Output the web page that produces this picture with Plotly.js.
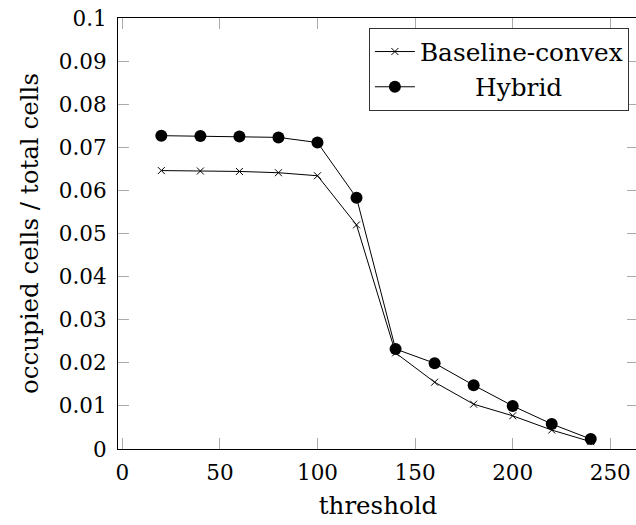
<!DOCTYPE html>
<html>
<head>
<meta charset="utf-8">
<script src="https://cdn.plot.ly/plotly-3.0.1.min.js"></script>
<style>html,body{margin:0;padding:0;background:#fff;overflow:hidden;}#chart{width:640px;height:525px;}</style>
</head>
<body>
<div id="chart"></div>
<script>
const thresholds = [20, 40, 60, 80, 100, 120, 140, 160, 180, 200, 220, 240];
const baselineConvex = [0.0646, 0.0645, 0.0644, 0.0641, 0.0634, 0.0520, 0.0223, 0.0155, 0.0104, 0.0077, 0.0044, 0.0017];
const hybrid = [0.0727, 0.0726, 0.0725, 0.0723, 0.0711, 0.0583, 0.0232, 0.0199, 0.0148, 0.0100, 0.0058, 0.0023];
const yTickVals = [0, 0.01, 0.02, 0.03, 0.04, 0.05, 0.06, 0.07, 0.08, 0.09, 0.1];
const yTickText = ["0", "0.01", "0.02", "0.03", "0.04", "0.05", "0.06", "0.07", "0.08", "0.09", "0.1"];
const xTickVals = [0, 50, 100, 150, 200, 250];
const xTickText = ["0", "50", "100", "150", "200", "250"];

const FONT = '"DejaVu Serif", "Liberation Serif", serif';

const traces = [
  {
    x: thresholds, y: baselineConvex, name: "Baseline-convex",
    type: "scatter", mode: "lines+markers",
    line: {color: "black", width: 1},
    marker: {symbol: "x-thin", size: 7, color: "black", line: {color: "black", width: 1}}
  },
  {
    x: thresholds, y: hybrid, name: "\u00a0\u00a0\u00a0\u00a0\u00a0\u00a0\u00a0Hybrid",
    type: "scatter", mode: "lines+markers",
    line: {color: "black", width: 1},
    marker: {symbol: "circle", size: 12, color: "black"}
  }
];

const layout = {
  width: 640, height: 525,
  margin: {l: 118, r: 2, t: 18, b: 76},
  paper_bgcolor: "white", plot_bgcolor: "white",
  font: {family: FONT, size: 21.5, color: "black"},
  showlegend: true,
  legend: {
    x: 0.9825, y: 0.977, xanchor: "right", yanchor: "top",
    bordercolor: "#333", borderwidth: 1, bgcolor: "white",
    font: {family: FONT, size: 24.8, color: "black"},
    itemwidth: 40, tracegroupgap: 0
  },
  xaxis: {
    range: [-2.2, 264.2],
    tickvals: xTickVals, ticktext: xTickText,
    ticks: "inside", ticklen: 11, tickcolor: "#aaa", tickwidth: 1,
    showline: true, linecolor: "black", linewidth: 1, mirror: "ticks",
    showgrid: false, zeroline: false,
    tickfont: {family: FONT, size: 21.5},
    ticklabelstandoff: 4,
    title: {text: "threshold", font: {family: FONT, size: 24.5}, standoff: 13}
  },
  yaxis: {
    range: [0, 0.1],
    tickvals: yTickVals, ticktext: yTickText,
    ticks: "inside", ticklen: 11, tickcolor: "#aaa", tickwidth: 1,
    showline: true, linecolor: "black", linewidth: 1, mirror: "ticks",
    showgrid: false, zeroline: false,
    tickfont: {family: FONT, size: 21.5},
    ticklabelstandoff: 6,
    title: {text: "occupied cells / total cells", font: {family: FONT, size: 24.5}, standoff: 13}
  }
};

Plotly.newPlot("chart", traces, layout, {displayModeBar: false, staticPlot: true});
</script>
</body>
</html>
